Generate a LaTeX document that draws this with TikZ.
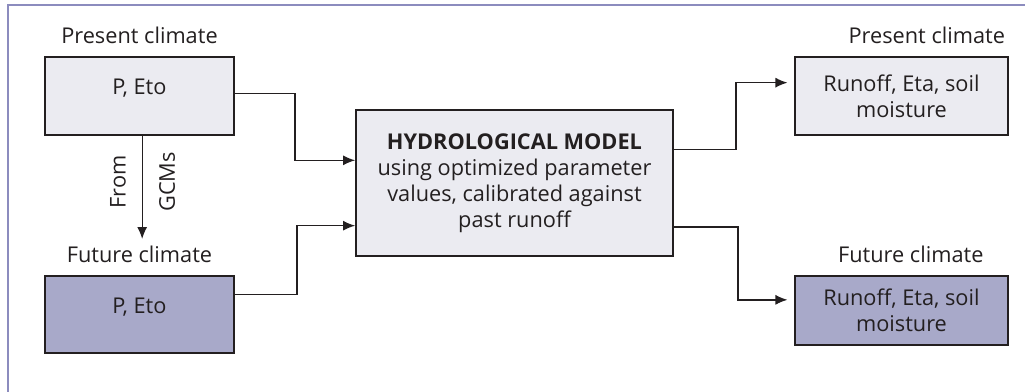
\documentclass[tikz,border=0pt]{standalone}
\usepackage{fontspec}
\setmainfont{Open Sans}
\usetikzlibrary{arrows.meta,positioning}
\definecolor{lightbox}{RGB}{235,235,241}
\definecolor{darkbox}{RGB}{168,169,201}
\definecolor{framecol}{RGB}{140,140,190}
\definecolor{txtcol}{RGB}{35,31,32}

\begin{document}
\begin{tikzpicture}[x=0.75pt,y=-0.75pt,>={Latex[length=9pt,width=7.5pt]},node distance=9pt]
	\tikzstyle{every node}=[text=txtcol,font=\fontsize{16.3}{19.5}\selectfont]
	\tikzstyle{box}=[draw=txtcol,line width=1.3pt,inner sep=0pt,align=center]
	\tikzstyle{inbox}=[box,minimum width=141.75pt,minimum height=58pt,text height=27.75pt,text depth=30pt]
	\tikzstyle{outbox}=[box,minimum width=159.75pt]
	\tikzstyle{lab}=[inner sep=0pt]
	\tikzstyle{link}=[->,line width=1pt,draw=txtcol]
	
	\useasboundingbox (0,0) rectangle (1025,392);
	\draw[framecol,line width=1.2pt] (8,392) -- (8,5) -- (1025,5);
	
	\node[inbox,fill=lightbox] (P1) at (139.5,96) {P, Eto};
	\node[inbox,fill=darkbox] (F1) at (139.5,314.5) {P, Eto};
	\node[box,fill=lightbox,minimum width=237.75pt,minimum height=109.5pt] (M) at (514.5,183)
		{\textbf{HYDROLOGICAL MODEL}\\using optimized parameter\\values, calibrated against\\past runoff};
	\node[outbox,fill=lightbox,minimum height=58.5pt] (R1) at (901.5,96) {Runoff, Eta, soil\\moisture};
	\node[outbox,fill=darkbox,minimum height=51.75pt] (R2) at (901.5,310.5) {Runoff, Eta, soil\\moisture};
	
	\node[lab] (P1lab) [above=of P1] {Present climate};
	\node[lab] (F1lab) [above=of F1] {Future climate};
	\node[lab,xshift=19pt] (R1lab) [above=of R1] {Present climate};
	\node[lab,xshift=7pt] (R2lab) [above=of R2] {Future climate};
	\node[lab,rotate=90] (from) at (118,182) {From};
	\node[lab,rotate=90] (gcm) at (167,182) {GCMs};
	
	\draw[link,shorten >=5pt] ([xshift=2pt]P1.south) -- ([xshift=2pt]P1.south |- F1lab.north);
	\draw[link] ([yshift=2pt]P1.east) -- ++(60,0) |- ([yshift=17pt]M.west);
	\draw[link] ([yshift=15pt]F1.east) -- ++(62,0) |- ([yshift=-32pt]M.west);
	\draw[link,shorten >=5pt] ([yshift=25pt]M.east) -- ++(62,0) |- ([yshift=10pt]R1.west);
	\draw[link,shorten >=5pt] ([yshift=-33pt]M.east) -- ++(64,0) |- ([yshift=8pt]R2.west);
\end{tikzpicture}
\end{document}
